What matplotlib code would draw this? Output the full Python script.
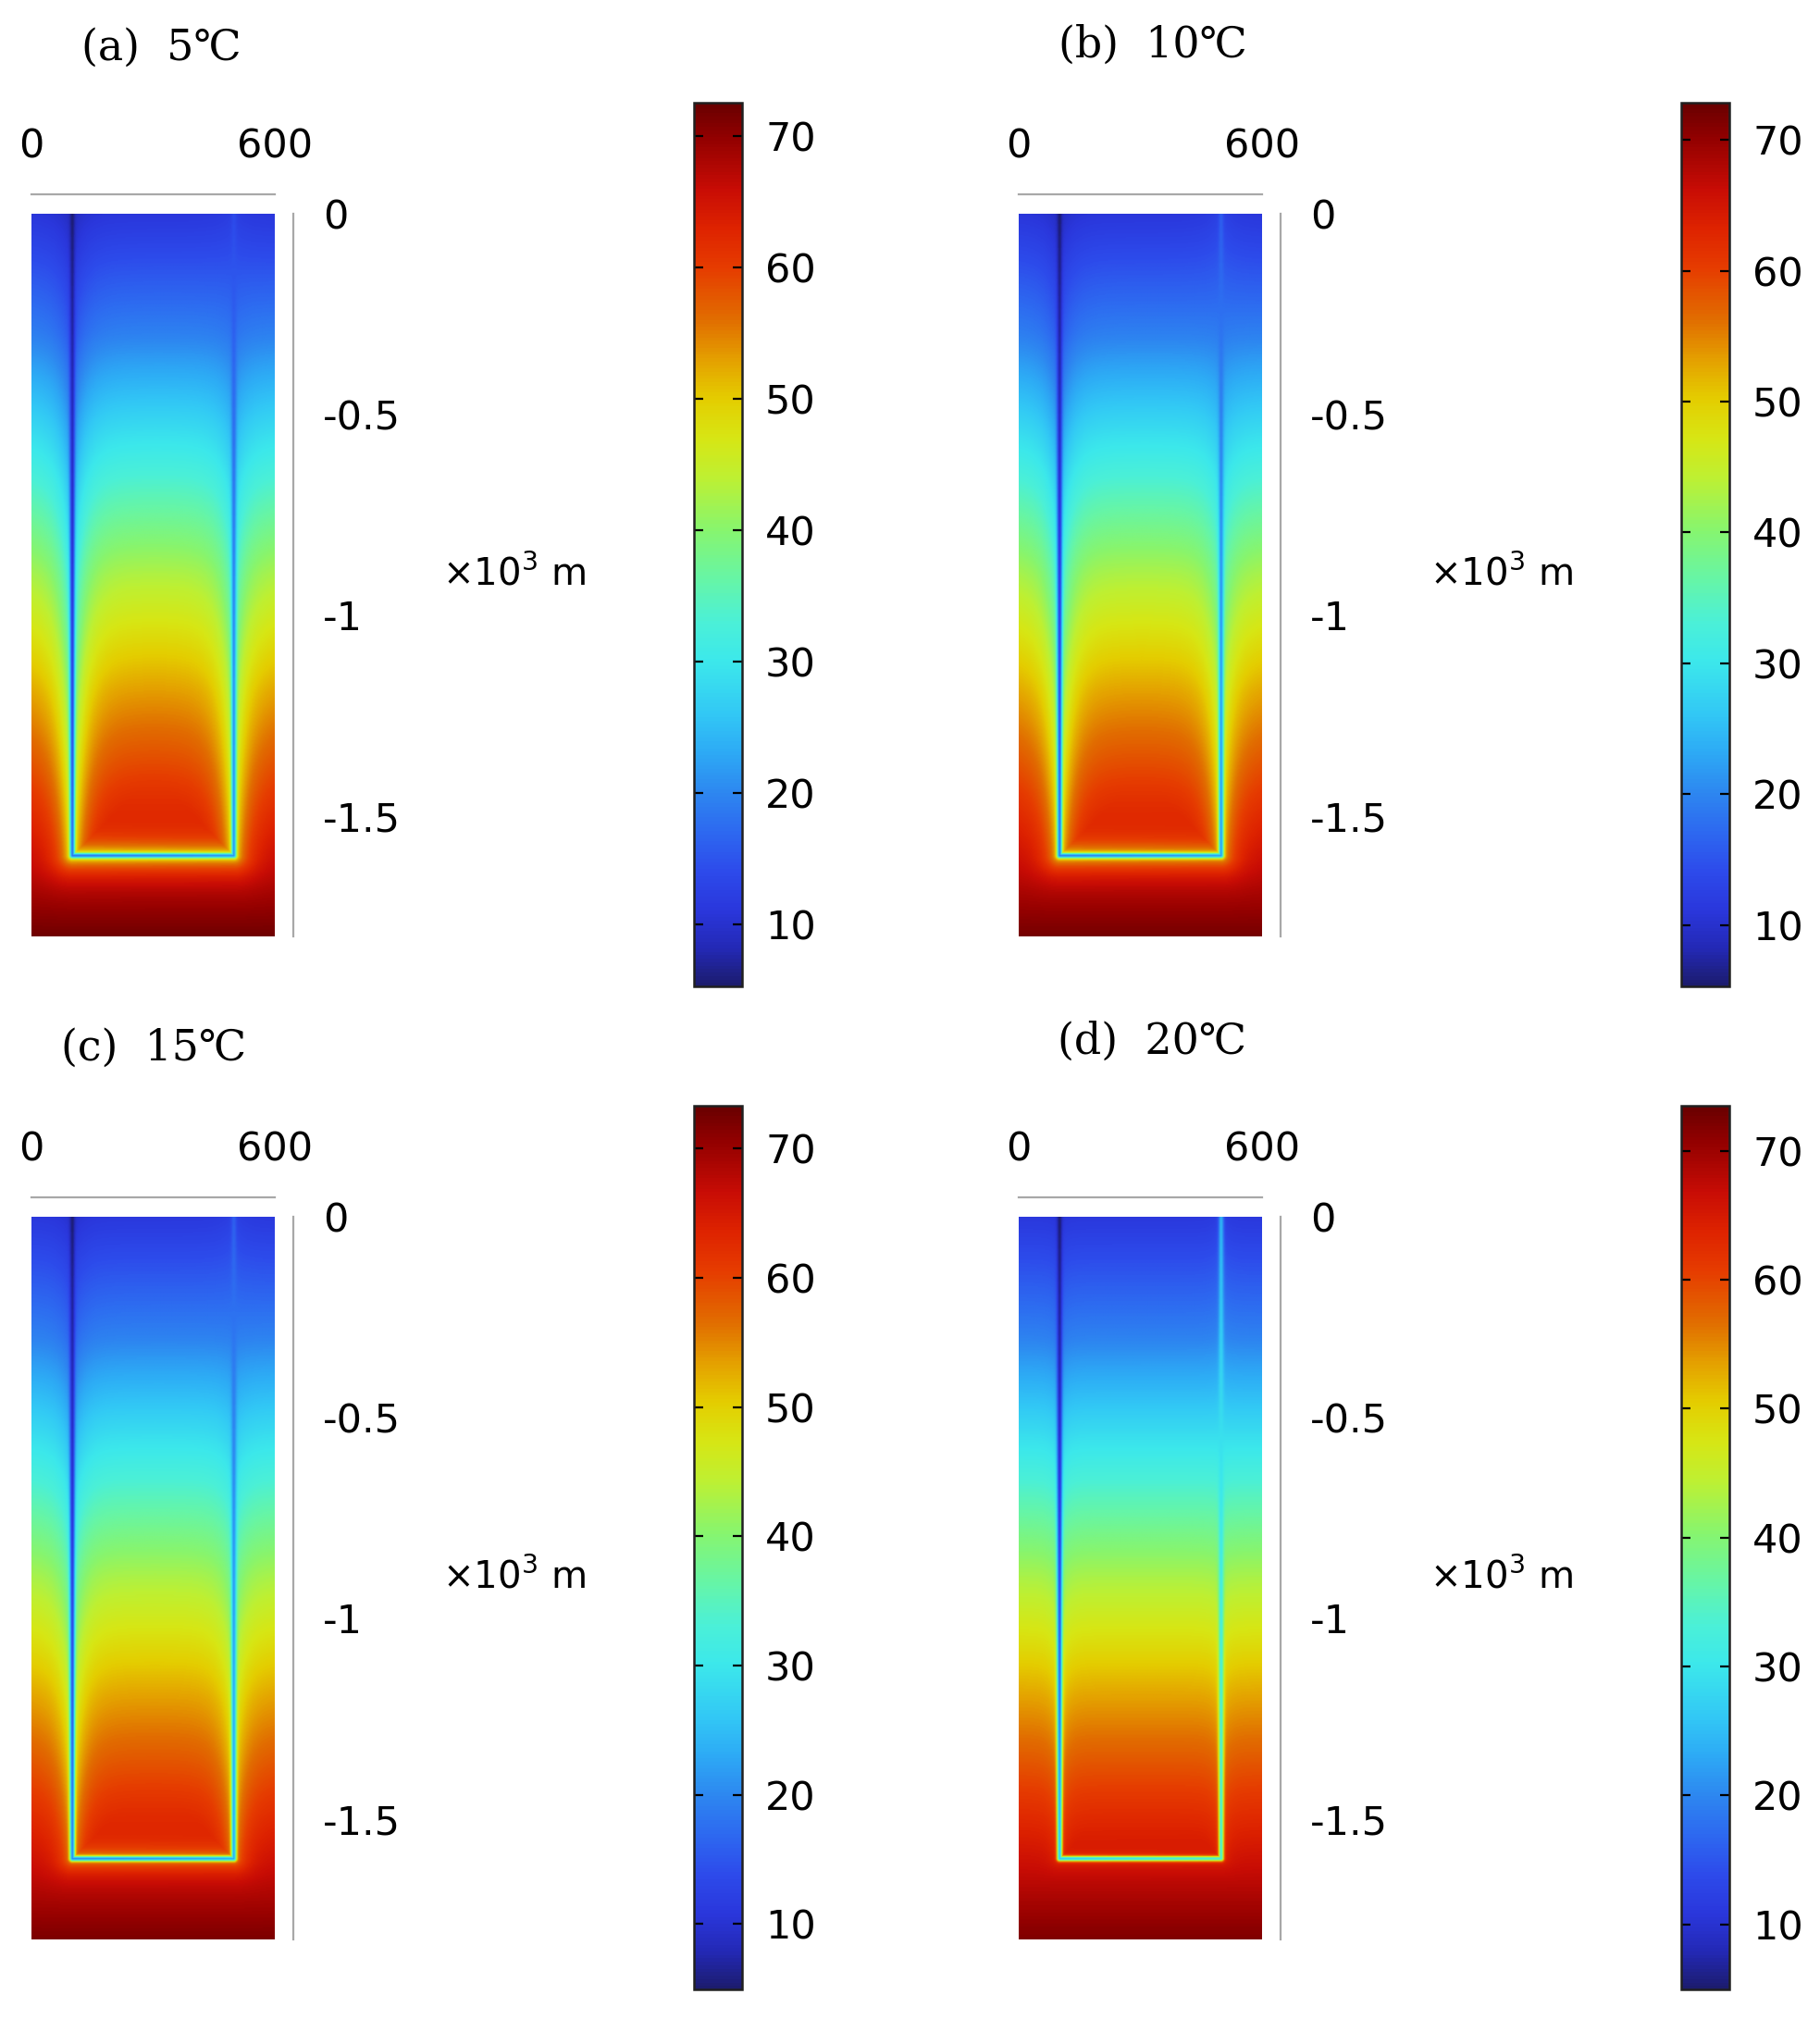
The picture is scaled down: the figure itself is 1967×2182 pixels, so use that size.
import numpy as np
import matplotlib
matplotlib.use('Agg')
import matplotlib.pyplot as plt
from matplotlib.colors import LinearSegmentedColormap, Normalize

plt.rcParams['font.family'] = ['DejaVu Sans', 'Noto Sans CJK SC']
plt.rcParams['mathtext.fontset'] = 'dejavusans'

# ---------------- data ----------------
panel_titles = ['(a)  5℃', '(b)  10℃', '(c)  15℃', '(d)  20℃']

# rock temperature versus depth (m), far from the pipe
depth_knots = np.array([0, 300, 600, 900, 1200, 1500, 1800])
rock_temp = np.array([11, 19.5, 31, 43, 53.5, 63, 72])

# U-shaped pipe: down at x=100 m, across at 1600 m depth, up at x=500 m
pipe_left_x = 100
pipe_right_x = 500
pipe_bottom = 1600
# fluid temperature along the pipe path (m from the inlet)
path_knots = np.array([0, 400, 800, 1200, 1600, 2000, 2400, 2800, 3200, 3600])
pipe_temp_a = [5.5, 8, 10, 13, 18, 21, 21, 19, 17, 14]
pipe_temp_b = [5.5, 8, 11, 14, 19, 22, 22, 21, 19, 16]
pipe_temp_c = [5.2, 8, 11, 15, 20, 23, 23, 21, 19, 16]
pipe_temp_d = [5.2, 8, 12, 18, 27, 33, 33, 31, 28, 24]
pipe_temps = [pipe_temp_a, pipe_temp_b, pipe_temp_c, pipe_temp_d]

# thermal halo round the pipe (share of the contrast, decay length in m)
halo_share = [0.45, 0.40, 0.30, 0.12]
halo_length = [32, 30, 26, 15]

# colour range of each colour bar
cbar_min = [5.3, 5.3, 4.95, 4.95]
cbar_max = [72.5, 72.85, 73.3, 73.5]
cbar_ticks = [10, 20, 30, 40, 50, 60, 70]

depth_ticks = [0, -500, -1000, -1500]
depth_labels = ['0', '-0.5', '-1', '-1.5']

# ---------------- colour map (COMSOL rainbow look) ----------------
cmap_stops = [
    (5.3, (28, 28, 110)), (8, (35, 40, 180)), (11, (42, 55, 220)),
    (14, (45, 75, 235)), (17, (45, 105, 240)), (20, (45, 135, 240)),
    (23, (45, 170, 245)), (26, (50, 200, 245)), (30, (60, 232, 235)),
    (33, (75, 240, 215)), (36, (100, 245, 170)), (40, (135, 245, 110)),
    (44, (190, 240, 50)), (47, (215, 230, 20)), (50, (228, 205, 0)),
    (53, (228, 160, 0)), (56, (225, 110, 0)), (60, (230, 60, 0)),
    (63, (222, 35, 0)), (66, (200, 12, 5)), (70, (145, 0, 0)),
    (72.5, (105, 0, 0)),
]
v0, v1 = cmap_stops[0][0], cmap_stops[-1][0]
rainbow = LinearSegmentedColormap.from_list(
    'comsol_rainbow',
    [((v - v0) / (v1 - v0), tuple(c / 255 for c in rgb)) for v, rgb in cmap_stops])


def temperature_field(ptemp, share, length):
    """地温场 + 管道冷却晕"""
    x = np.linspace(0, 600, 241)
    z = np.linspace(0, 1800, 721)
    X, Z = np.meshgrid(x, z)
    zc = np.clip(Z, 0, pipe_bottom)
    xc = np.clip(X, pipe_left_x, pipe_right_x)
    span = pipe_right_x - pipe_left_x
    d = np.stack([np.hypot(X - pipe_left_x, Z - zc),
                  np.hypot(X - xc, Z - pipe_bottom),
                  np.hypot(X - pipe_right_x, Z - zc)])
    s = np.stack([zc,
                  pipe_bottom + (xc - pipe_left_x),
                  pipe_bottom + span + (pipe_bottom - zc)])
    k = np.argmin(d, axis=0)
    dist = np.take_along_axis(d, k[None], 0)[0]
    spos = np.take_along_axis(s, k[None], 0)[0]
    t_bg = np.interp(Z, depth_knots, rock_temp)
    t_p = np.interp(spos, path_knots, ptemp)
    f = (1 - share) * np.exp(-(dist / 6.5) ** 2) + share * np.exp(-dist / length)
    return t_bg + (t_p - t_bg) * f


W, H = 1967, 2182
fig = plt.figure(figsize=(W / 100, H / 100), dpi=100)


def rect(l, t, r, b):
    return [l / W, 1 - b / H, (r - l) / W, (b - t) / H]


dx, dy = 1067, 1084
title_pos = [(174, 52), (1246, 49), (166, 1133), (1245, 1126)]

for i in range(4):
    col, row = i % 2, i // 2
    ox, oy = dx * col, dy * row

    ax = fig.add_axes(rect(34 + ox, 231 + oy, 297 + ox, 1012 + oy))
    field = temperature_field(pipe_temps[i], halo_share[i], halo_length[i])
    norm = Normalize(vmin=cbar_min[i], vmax=cbar_max[i])
    im = ax.imshow(field, extent=[0, 600, -1800, 0], origin='upper', aspect='auto',
                   cmap=rainbow, norm=norm, interpolation='bilinear')
    ax.set_xlim(0, 600)
    ax.set_ylim(-1800, 0)
    for side in ['left', 'bottom']:
        ax.spines[side].set_visible(False)
    ax.spines['top'].set_position(('outward', 15))
    ax.spines['right'].set_position(('outward', 14.4))
    for side in ['top', 'right']:
        ax.spines[side].set_color('#a8a8a8')
        ax.spines[side].set_linewidth(1.6)
    ax.xaxis.tick_top()
    ax.set_xticks([0, 600])
    ax.set_xticklabels(['0', '600'])
    ax.yaxis.tick_right()
    ax.set_yticks(depth_ticks)
    ax.set_yticklabels(depth_labels)
    ax.tick_params(axis='x', length=0, pad=22, labelsize=31)
    ax.tick_params(axis='y', length=0, pad=23, labelsize=31)

    fig.text((478 + ox) / W, 1 - (621 + oy) / H, '×10$^3$ m', fontsize=29,
             ha='left', va='center')

    tx, ty = title_pos[i]
    fig.text(tx / W, 1 - ty / H, panel_titles[i], fontsize=33, ha='center', va='center',
             family=['DejaVu Serif', 'Noto Sans CJK SC'])

    cax = fig.add_axes(rect(750 + ox, 111 + oy, 802 + ox, 1066 + oy))
    cb = fig.colorbar(im, cax=cax, ticks=cbar_ticks)
    cb.outline.set_linewidth(1.8)
    cb.outline.set_edgecolor('#202020')
    cax.tick_params(axis='y', direction='in', left=True, right=True, length=7,
                    width=1.6, labelsize=31, pad=18)

fig.savefig('out.png', dpi=100)
